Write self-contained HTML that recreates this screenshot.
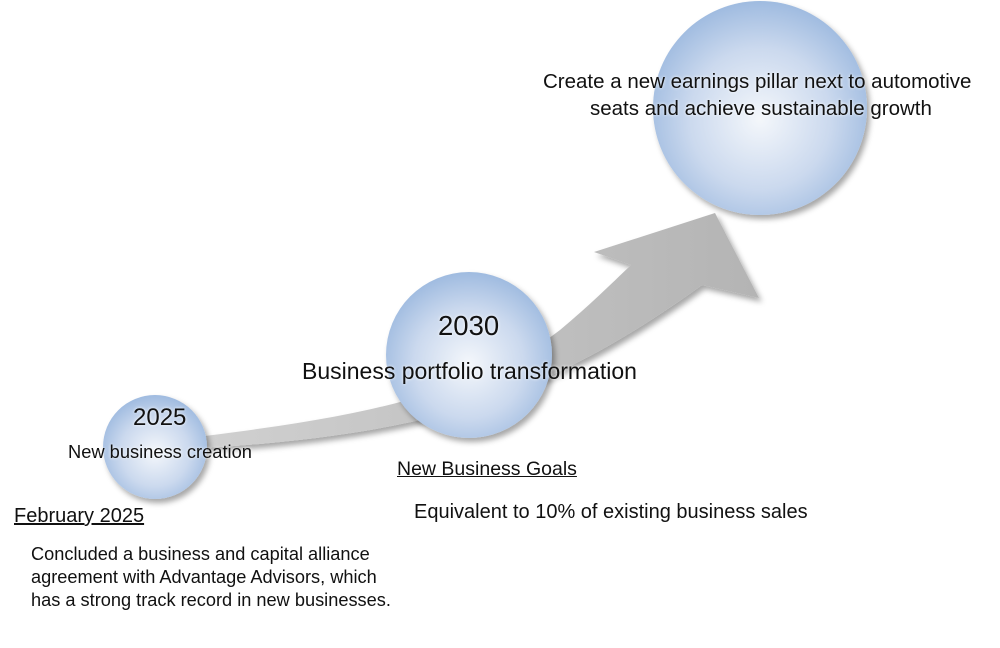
<!DOCTYPE html>
<html><head><style>
body{margin:0;width:1000px;height:648px;background:#fff;overflow:hidden;position:relative;font-family:"Liberation Sans",sans-serif;color:#111}
.t{position:absolute;white-space:nowrap;text-shadow:0 0 3px #fff}
</style></head><body>
<svg width="1000" height="648" style="position:absolute;left:0;top:0">
<defs>
<radialGradient id="g" cx="50%" cy="55%" r="55%">
<stop offset="0" stop-color="#f4f7fb"/><stop offset="0.6" stop-color="#cbd9ee"/><stop offset="1" stop-color="#9fbbe0"/>
</radialGradient>
<linearGradient id="a" x1="0" y1="0" x2="1" y2="0">
<stop offset="0" stop-color="#d0d0d0"/><stop offset="1" stop-color="#b4b4b4"/>
</linearGradient>
<filter id="s" x="-20%" y="-20%" width="150%" height="150%"><feDropShadow dx="3" dy="4" stdDeviation="3" flood-color="#000" flood-opacity="0.35"/></filter>
</defs>
<path d="M205 436 C330 420 470 400 560 330 C590 305 610 285 631 265 L594 252 L715 213 L759 298 L702 285 C640 330 560 380 460 410 C380 432 300 442 205 448 Z" fill="url(#a)" filter="url(#s)"/>
<circle cx="155" cy="447" r="52" fill="url(#g)" filter="url(#s)"/>
<circle cx="469" cy="355" r="83" fill="url(#g)" filter="url(#s)"/>
<circle cx="760" cy="108" r="107" fill="url(#g)" filter="url(#s)"/>
</svg>
<div class="t" style="left:543px;top:70px;font-size:20.5px">Create a new earnings pillar next to automotive</div>
<div class="t" style="left:590px;top:97px;font-size:20.5px">seats and achieve sustainable growth</div>
<div class="t" style="left:438px;top:310px;font-size:27.5px">2030</div>
<div class="t" style="left:302px;top:358px;font-size:23px">Business portfolio transformation</div>
<div class="t" style="left:133px;top:404px;font-size:24px">2025</div>
<div class="t" style="left:68px;top:441px;font-size:18.3px">New business creation</div>
<div class="t" style="left:397px;top:458px;font-size:19.5px;text-decoration:underline">New Business Goals</div>
<div class="t" style="left:414px;top:501px;font-size:20px">Equivalent to 10% of existing business sales</div>
<div class="t" style="left:14px;top:505px;font-size:20px;text-decoration:underline">February 2025</div>
<div class="t" style="left:31px;top:543px;font-size:18.2px;line-height:23px">Concluded a business and capital alliance<br>agreement with Advantage Advisors, which<br>has a strong track record in new businesses.</div>
</body></html>
